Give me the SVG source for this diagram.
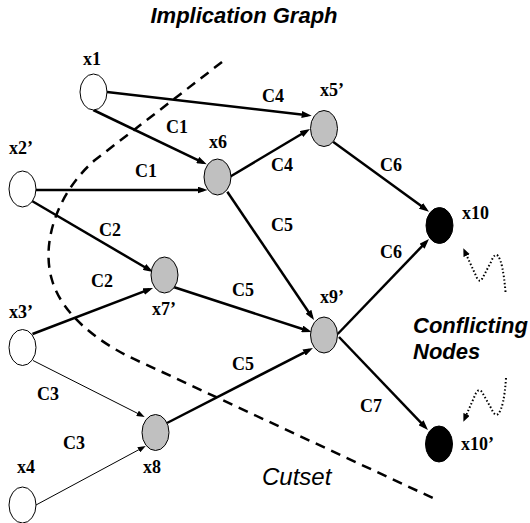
<svg xmlns="http://www.w3.org/2000/svg" width="530" height="523" viewBox="0 0 530 523">
<style>
.n{stroke:#000;stroke-width:1}
.w{fill:#fff}
.g{fill:#c0c0c0}
.b{fill:#000}
.lbl{font-family:"Liberation Serif","Times New Roman",serif;font-weight:bold;font-size:18px;fill:#000}
.e{fill:none;stroke:#000;stroke-width:2.5}
.t{fill:none;stroke:#000;stroke-width:1}
.cut{fill:none;stroke:#000;stroke-width:2.5;stroke-dasharray:10 7}
.dot{fill:none;stroke:#000;stroke-width:2;stroke-dasharray:1.5 2.2}
.title{font-family:"Liberation Sans",Arial,sans-serif;font-weight:bold;font-style:italic;fill:#000}
</style>
<defs>
<marker id="ah" markerUnits="userSpaceOnUse" markerWidth="10" markerHeight="7" refX="6" refY="3.5" orient="auto">
<path d="M0,0 L10,3.5 L0,7 z" fill="#000"/>
</marker>
<marker id="ahs" markerUnits="userSpaceOnUse" markerWidth="8" markerHeight="6" refX="5" refY="3" orient="auto">
<path d="M0,0 L8,3 L0,6 z" fill="#000"/>
</marker>
<marker id="ahd" markerUnits="userSpaceOnUse" markerWidth="8" markerHeight="7" refX="4" refY="3.5" orient="auto">
<path d="M0,0 L8,3.5 L0,7 z" fill="#000"/>
</marker>
</defs>

<text class="title" x="244" y="23" font-size="22" text-anchor="middle">Implication Graph</text>

<path id="cutset" class="cut" d="M222,62 L95,160 C60,190 40,240 52,280 C62,315 100,345 145,364 L435,499"/>

<g id="connectors">
<path class="e" marker-end="url(#ah)" d="M107,92 L307.7,115.2"/>
<path class="e" marker-end="url(#ah)" d="M93.3,110 L203.1,162.6"/>
<path class="e" marker-end="url(#ah)" d="M36,190 L203.5,190"/>
<path class="e" marker-end="url(#ah)" d="M32,201 L149.6,270"/>
<path class="e" marker-end="url(#ah)" d="M32.5,334 L149.3,289.4"/>
<path class="t" marker-end="url(#ahs)" d="M33,360.5 L142,415.6"/>
<path class="t" marker-end="url(#ahs)" d="M36,505 L143.1,447.4"/>
<path class="e" marker-end="url(#ah)" d="M173.5,287 L307.9,330.8"/>
<path class="e" marker-end="url(#ah)" d="M167,423 L309.4,349.8"/>
<path class="e" marker-end="url(#ah)" d="M230,176.7 L306.6,131"/>
<path class="e" marker-end="url(#ah)" d="M227.3,191.7 L311.8,316.7"/>
<path class="e" marker-end="url(#ah)" d="M333,141.7 L425.8,209.3"/>
<path class="e" marker-end="url(#ah)" d="M337.7,334 L426.2,241.9"/>
<path class="e" marker-end="url(#ah)" d="M339,337 L425.2,427.1"/>
<path class="dot" marker-end="url(#ahd)" d="M505.5,292 Q503,262 498,256 Q495,252 491,262 L482,279 Q480,283 477,278 L465,252"/>
<path class="dot" marker-end="url(#ahd)" d="M506,378 Q504,408 498,414 Q495,417 491,408 L482,392 Q479,388 476,393 L465,418"/>
<text class="lbl" x="262" y="102">C4</text>
<text class="lbl" x="166" y="133">C1</text>
<text class="lbl" x="135" y="177">C1</text>
<text class="lbl" x="99" y="236">C2</text>
<text class="lbl" x="91" y="287">C2</text>
<text class="lbl" x="37" y="400">C3</text>
<text class="lbl" x="63" y="449">C3</text>
<text class="lbl" x="232" y="296">C5</text>
<text class="lbl" x="232" y="370">C5</text>
<text class="lbl" x="271" y="171">C4</text>
<text class="lbl" x="271" y="231">C5</text>
<text class="lbl" x="380" y="171">C6</text>
<text class="lbl" x="380" y="258">C6</text>
<text class="lbl" x="360" y="412">C7</text>
</g>

<g id="x1"><ellipse class="n w" cx="93.5" cy="92" rx="13.5" ry="18"/><text class="lbl" x="83" y="65">x1</text></g>
<g id="x2p"><ellipse class="n w" cx="22.5" cy="189" rx="13.5" ry="18"/><text class="lbl" x="9" y="154">x2’</text></g>
<g id="x3p"><ellipse class="n w" cx="22.5" cy="347.5" rx="13.5" ry="18"/><text class="lbl" x="9" y="318">x3’</text></g>
<g id="x4"><ellipse class="n w" cx="22.5" cy="505" rx="13.5" ry="18"/><text class="lbl" x="17" y="473">x4</text></g>
<g id="x6"><ellipse class="n g" cx="217.5" cy="177" rx="13.5" ry="18"/><text class="lbl" x="209" y="148">x6</text></g>
<g id="x7p"><ellipse class="n g" cx="164.5" cy="275" rx="13.5" ry="18"/><text class="lbl" x="152" y="315">x7’</text></g>
<g id="x8"><ellipse class="n g" cx="155.5" cy="432.5" rx="13.5" ry="18"/><text class="lbl" x="143" y="473">x8</text></g>
<g id="x5p"><ellipse class="n g" cx="324" cy="128.5" rx="13.5" ry="18"/><text class="lbl" x="320" y="96">x5’</text></g>
<g id="x9p"><ellipse class="n g" cx="324" cy="335" rx="13.5" ry="18"/><text class="lbl" x="320" y="303">x9’</text></g>
<g id="x10"><ellipse class="n b" cx="439.5" cy="225.5" rx="13.5" ry="18"/><text class="lbl" x="462" y="219">x10</text></g>
<g id="x10p"><ellipse class="n b" cx="439" cy="444" rx="13.5" ry="18"/><text class="lbl" x="461" y="450">x10’</text></g>

<text class="title" x="413" y="333" font-size="22">Conflicting</text>
<text class="title" x="413" y="359" font-size="22">Nodes</text>
<text x="262" y="485" font-family="'Liberation Sans',Arial,sans-serif" font-style="italic" font-size="24" fill="#000">Cutset</text>
</svg>
